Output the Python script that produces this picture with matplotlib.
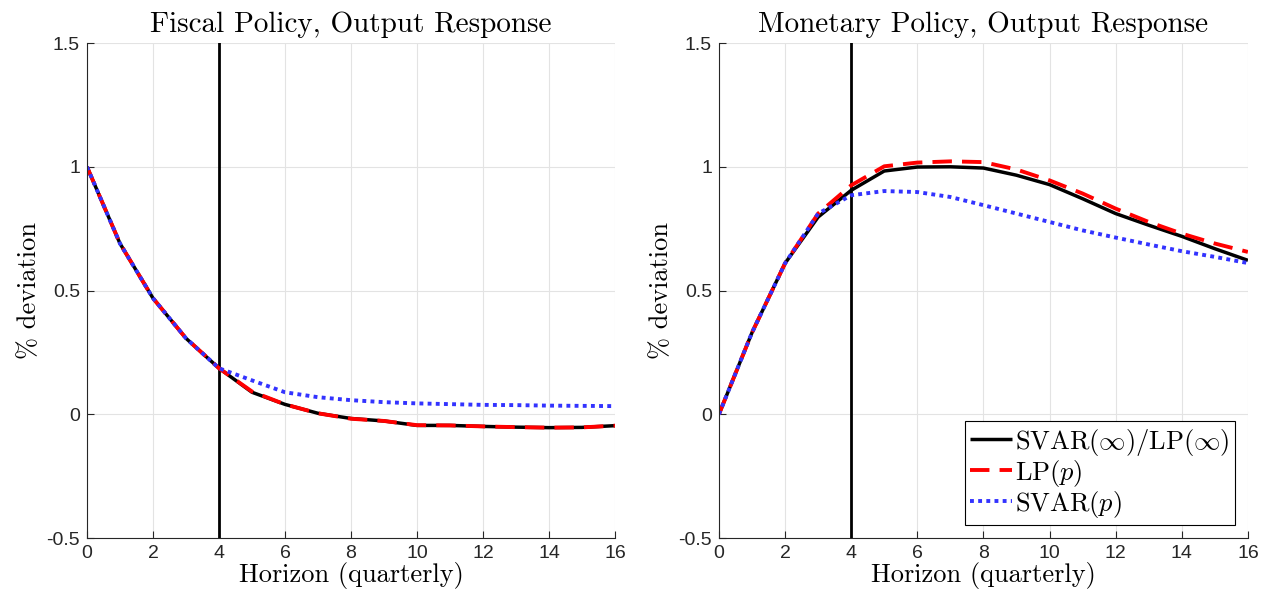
import numpy as np
import matplotlib
matplotlib.use("Agg")
from matplotlib import pyplot as plt

plt.rcParams['mathtext.fontset'] = 'cm'
plt.rcParams['axes.unicode_minus'] = False

horizon = np.arange(17)

# fiscal policy, output response
fiscal_true = [1.0, 0.69, 0.469, 0.307, 0.186, 0.089, 0.04, 0.004, -0.017,
               -0.027, -0.045, -0.045, -0.049, -0.052, -0.054, -0.053, -0.046]
fiscal_lp = [1.0, 0.69, 0.469, 0.307, 0.186, 0.092, 0.04, 0.004, -0.018,
             -0.027, -0.044, -0.045, -0.049, -0.052, -0.054, -0.053, -0.046]
fiscal_svar = [1.0, 0.69, 0.469, 0.307, 0.186, 0.137, 0.089, 0.069, 0.057,
               0.049, 0.044, 0.041, 0.038, 0.037, 0.035, 0.034, 0.033]

# monetary policy, output response
monetary_true = [0.0, 0.33, 0.61, 0.797, 0.905, 0.983, 0.999, 1.0, 0.995,
                 0.966, 0.928, 0.871, 0.811, 0.764, 0.719, 0.669, 0.622]
monetary_lp = [0.0, 0.33, 0.61, 0.811, 0.925, 1.002, 1.017, 1.022, 1.019,
               0.989, 0.945, 0.892, 0.831, 0.777, 0.730, 0.690, 0.656]
monetary_svar = [0.0, 0.33, 0.61, 0.811, 0.885, 0.902, 0.898, 0.878, 0.845,
                 0.811, 0.777, 0.743, 0.714, 0.686, 0.659, 0.636, 0.611]

titles = ['Fiscal Policy, Output Response', 'Monetary Policy, Output Response']
yticks = [-0.5, 0, 0.5, 1, 1.5]
ytick_labels = ['-0.5', '0', '0.5', '1', '1.5']
xticks = list(range(0, 17, 2))
labels = [r'$\mathrm{SVAR}(\infty)/\mathrm{LP}(\infty)$',
          r'$\mathrm{LP}(p)$', r'$\mathrm{SVAR}(p)$']

fig = plt.figure(figsize=(12.7, 5.98), dpi=100)
ax1 = fig.add_axes([0.0685, 0.1003, 0.4157, 0.8277])
ax2 = fig.add_axes([0.5661, 0.1003, 0.4165, 0.8277])

data = [(fiscal_true, fiscal_lp, fiscal_svar),
        (monetary_true, monetary_lp, monetary_svar)]

for ax, title, (true, lp, svar) in zip([ax1, ax2], titles, data):
    ax.grid(True, color='#e3e3e3', linewidth=0.8)
    ax.set_axisbelow(True)
    ax.axvline(4, color='black', linewidth=2)
    ax.plot(horizon, true, color='black', linewidth=2.5, label=labels[0],
            solid_capstyle='butt')
    ax.plot(horizon, lp, color='red', linewidth=2.8, linestyle=(0, (5, 2.6)),
            label=labels[1])
    ax.plot(horizon, svar, color='#3333ff', linewidth=2.8,
            linestyle=(0, (1, 1.1)), label=labels[2])
    ax.set_xlim(0, 16)
    ax.set_ylim(-0.5, 1.5)
    ax.set_xticks(xticks)
    ax.set_yticks(yticks)
    ax.set_yticklabels(ytick_labels)
    ax.tick_params(direction='in', length=5, width=0.8, colors='#262626',
                   labelsize=14, pad=5)
    for lab in ax.get_xticklabels() + ax.get_yticklabels():
        lab.set_fontfamily('Liberation Sans')
    for side in ['top', 'right']:
        ax.spines[side].set_visible(False)
    for side in ['left', 'bottom']:
        ax.spines[side].set_color('#262626')
        ax.spines[side].set_linewidth(0.8)
    ax.set_title(title, fontfamily='cmr10', fontsize=21, pad=8)
    ax.set_xlabel('Horizon (quarterly)', fontfamily='cmr10', fontsize=19,
                  labelpad=0)
    ax.set_ylabel(r'% deviation', fontfamily='cmr10', fontsize=19,
                  labelpad=4)

leg = ax2.legend(loc='lower right', fontsize=19, frameon=True, fancybox=False,
                 edgecolor='black', framealpha=1, borderpad=0.2,
                 handlelength=1.6, handletextpad=0.1, labelspacing=0.0,
                 borderaxespad=0.5)
leg.get_frame().set_linewidth(0.8)

fig.savefig('out.png', dpi=100)
